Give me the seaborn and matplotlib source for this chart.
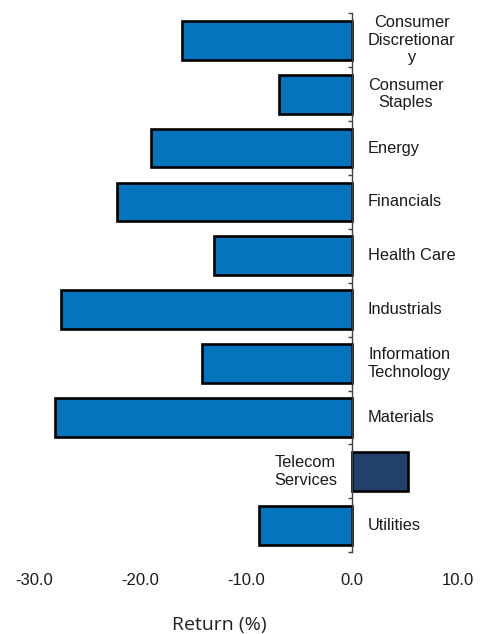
import matplotlib
matplotlib.use("Agg")
import matplotlib.pyplot as plt
import seaborn as sns
import numpy as np

# Sector returns (%)
sectors = ["Consumer Discretionary", "Consumer Staples", "Energy", "Financials",
           "Health Care", "Industrials", "Information Technology", "Materials",
           "Telecom Services", "Utilities"]
labels = ["Consumer\nDiscretionar\ny", "Consumer\nStaples", "Energy", "Financials",
          "Health Care", "Industrials", "Information\nTechnology", "Materials",
          "Telecom\nServices", "Utilities"]
returns = [-16.0, -6.9, -19.0, -22.2, -13.0, -27.5, -14.2, -28.0, 5.3, -8.8]
xticks = [-30, -20, -10, 0, 10]

blue = "#0474BC"
navy = "#22416A"
colors = [navy if v > 0 else blue for v in returns]

sns.set_style("white")
plt.rcParams['font.family'] = ['Liberation Sans', 'DejaVu Sans']

fig = plt.figure(figsize=(4.81, 6.34), dpi=100)
ax = fig.add_axes([0.071, 0.129, 0.881, 0.850])

sns.barplot(x=returns, y=sectors, hue=sectors, palette=colors, legend=False,
            orient="h", width=0.72, edgecolor="black", linewidth=1.9,
            saturation=1, ax=ax)

ax.set_xlim(-30, 10)
ax.set_ylim(9.5, -0.5)

# category labels next to the zero line
for i, (lab, v) in enumerate(zip(labels, returns)):
    if v < 0:
        ax.text(1.5, i, lab, ha="left", va="center", multialignment="center",
                fontsize=11.8, color="#1a1a1a")
    else:
        ax.text(-1.4, i, lab, ha="right", va="center", multialignment="center",
                fontsize=11.8, color="#1a1a1a")

# spines: only the zero line
for s in ["top", "right", "bottom"]:
    ax.spines[s].set_visible(False)
ax.spines["left"].set_position(("data", 0))
ax.spines["left"].set_color("#404040")
ax.spines["left"].set_linewidth(1.0)

ax.set_yticks([])
ax.set_yticks(np.arange(-0.5, len(sectors), 1.0), minor=True)
ax.tick_params(axis="y", which="minor", length=3, width=1.0, color="#404040",
               direction="out", left=True)
ax.set_ylabel("")

ax.set_xticks(xticks)
ax.set_xticklabels([f"{t:.1f}" for t in xticks])
ax.tick_params(axis="x", length=0, pad=15, labelsize=12, labelcolor="#1a1a1a")

ax.set_xlabel("Return (%)", fontsize=14, family=["Open Sans", "DejaVu Sans"],
              color="#222222")
ax.xaxis.set_label_coords(0.4375, -0.119)
ax.grid(False)

fig.savefig("out.png", dpi=100)
